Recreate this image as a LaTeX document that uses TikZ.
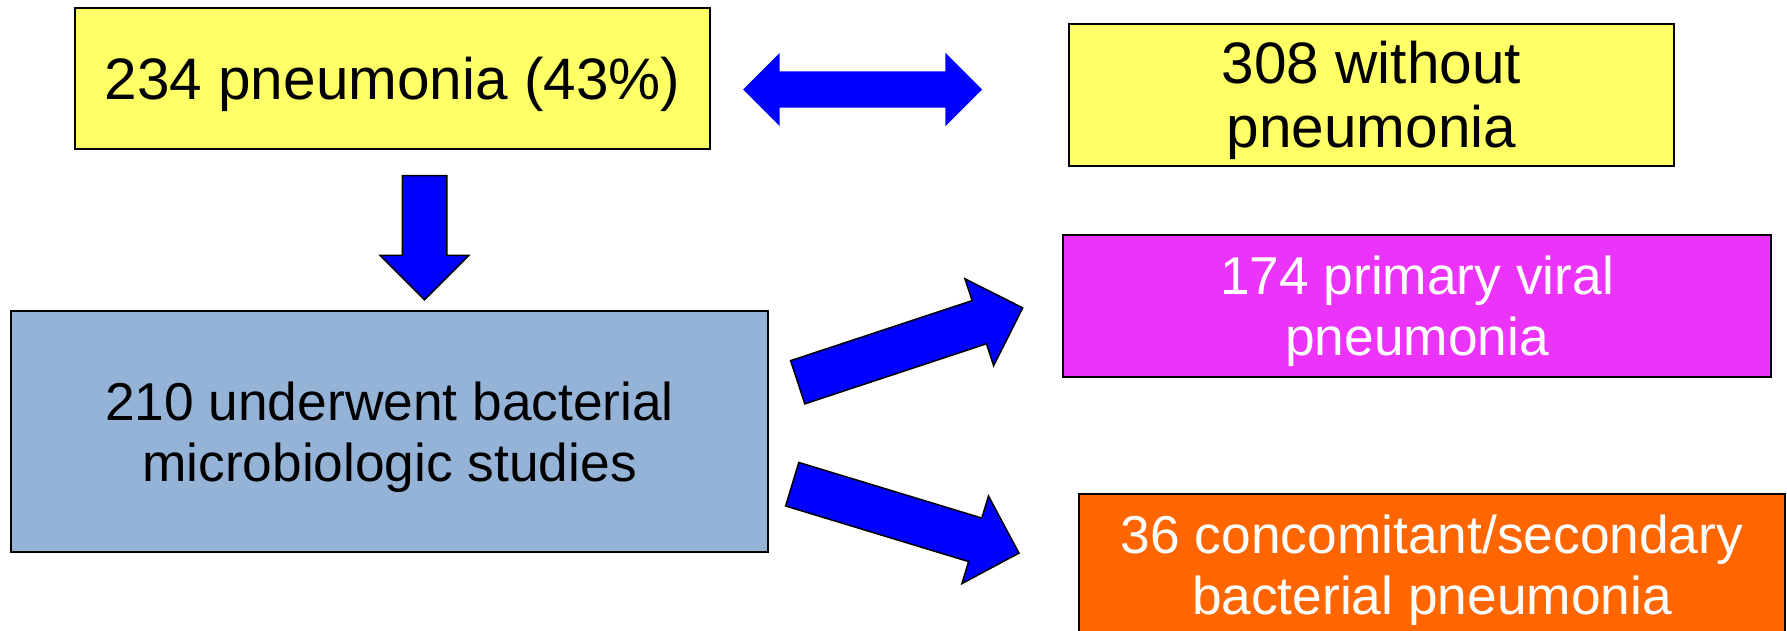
\documentclass[tikz,border=0pt]{standalone}
\usepackage{fontspec}
\setmainfont{Liberation Sans}
\usetikzlibrary{shapes.arrows}
\definecolor{boxyellow}{HTML}{FFFF66}
\definecolor{boxsteel}{HTML}{95B3D7}
\definecolor{boxviolet}{HTML}{EB33FA}
\definecolor{boxorange}{HTML}{FF6600}
\definecolor{arrowblue}{HTML}{0000FF}
\newcommand\capln[1]{\smash{#1}\rule{0pt}{0.716em}}

\begin{document}
\begin{tikzpicture}[x=1pt,y=-1pt,
    stage/.style={draw=black,line width=1.5pt,inner sep=0pt,align=center,
      font=\fontsize{53.3}{61}\selectfont},
    bigstage/.style={stage,font=\fontsize{58.5}{64}\selectfont},
    flow/.style={single arrow,draw=black,line width=1.5pt,fill=arrowblue,
      inner sep=0pt,anchor=tail,single arrow head extend=23pt,
      text height=22pt,text depth=22pt,minimum width=90pt,minimum height=237pt}]
  \useasboundingbox (0,0) rectangle (1787,631);
  \clip (0,0) rectangle (1787,631);

  \node[bigstage,fill=boxyellow,minimum width=635pt,minimum height=141pt]
    (pneu) at (392.5,78.5) {\capln{234 pneumonia (43\%)}};
  \node[bigstage,fill=boxyellow,minimum width=605pt,minimum height=142pt]
    (without) at (1371.5,95) {\capln{308 without}\\\capln{pneumonia}};
  \node[stage,fill=boxsteel,minimum width=757pt,minimum height=241pt]
    (studies) at (389.5,431.5)
    {\capln{210 underwent bacterial}\\\capln{microbiologic studies}};
  \node[stage,fill=boxviolet,text=white,minimum width=708pt,minimum height=142pt]
    (viral) at (1417,306) {\capln{174 primary viral}\\\capln{pneumonia}};
  \node[stage,fill=boxorange,text=white,minimum width=706pt,minimum height=142pt]
    (bact) at (1432,565)
    {\capln{36 concomitant/secondary}\\\capln{bacterial pneumonia}};

  \node[double arrow,fill=arrowblue,inner sep=0pt,double arrow head extend=18.5pt,
    text height=18pt,text depth=18pt,minimum width=73pt,minimum height=239pt]
    (split) at (862.5,89.5) {};
  \node[flow,rotate=-90,single arrow head extend=22pt,text height=21.5pt,
    text depth=21.5pt,minimum width=87pt,minimum height=124pt]
    (down) at (424.5,175) {};
  \node[flow,rotate=18.3] (toviral) at (797,382.5) {};
  \node[flow,rotate=-16.9] (tobact) at (791.5,484) {};
\end{tikzpicture}
\end{document}
